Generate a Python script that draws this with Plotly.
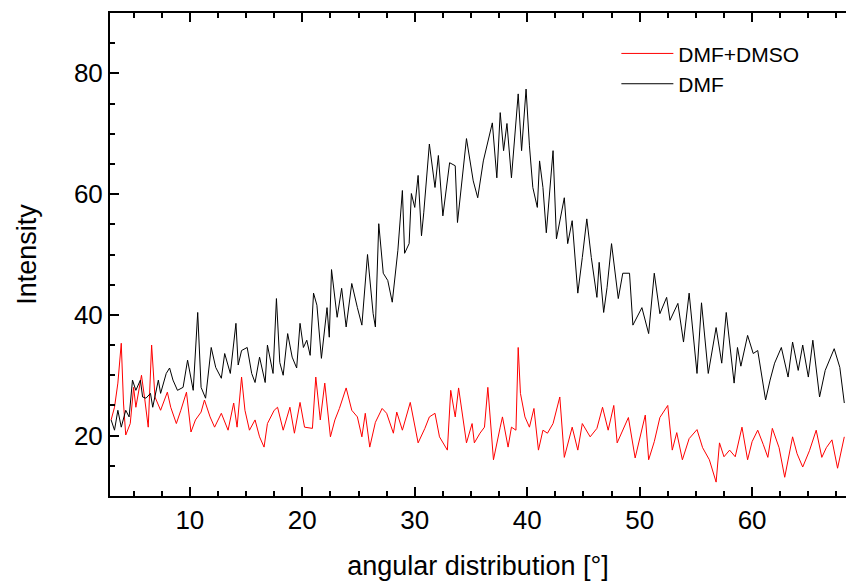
import plotly.graph_objects as go

# DMF (black) series: angle [deg], intensity
dmf_x = [3.0, 3.3, 3.6, 3.9, 4.3, 4.6, 4.9, 5.2, 5.6, 5.8, 6.1, 6.5, 6.7, 7.2, 7.4, 7.9, 8.2, 8.5, 8.9, 9.4,
         9.8, 10.3, 10.7, 11.0, 11.4, 11.9, 12.3, 12.8, 13.1, 13.6, 14.1, 14.3, 14.6, 15.1, 15.5, 15.8, 16.2,
         16.7, 16.9, 17.4, 17.7, 18.0, 18.3, 18.7, 19.1, 19.5, 19.8, 20.1, 20.4, 20.7, 21.0, 21.3, 21.7, 22.2,
         22.4, 22.6, 23.1, 23.5, 23.9, 24.4, 24.9, 25.3, 25.8, 26.3, 26.5, 26.8, 27.2, 27.6, 28.0, 28.5, 28.9,
         29.1, 29.5, 29.7, 30.0, 30.3, 30.6, 30.8, 31.3, 31.8, 32.1, 32.5, 33.1, 33.6, 33.8, 34.6, 35.2, 35.6,
         36.1, 36.4, 36.9, 37.3, 37.6, 37.9, 38.2, 38.6, 39.2, 39.5, 39.9, 40.2, 40.5, 40.9, 41.1, 41.4, 41.7,
         42.3, 42.6, 43.3, 43.6, 44.0, 44.5, 44.9, 45.3, 45.7, 46.2, 46.4, 46.8, 47.1, 47.5, 48.1, 48.5, 49.1,
         49.4, 50.2, 50.8, 51.3, 51.8, 52.4, 52.7, 53.4, 53.9, 54.4, 55.1, 55.5, 56.1, 56.8, 57.3, 57.7, 58.4,
         58.7, 59.0, 59.6, 60.1, 60.5, 61.2, 61.6, 62.0, 62.6, 63.2, 63.6, 64.1, 64.5, 65.0, 65.4, 66.0, 66.5,
         67.3, 67.8, 68.2]
dmf_y = [22.6, 20.9, 24.2, 21.4, 24.2, 23.1, 29.2, 27.5, 29.2, 26.4, 26.2, 27.0, 24.7, 29.2, 27.0, 30.3, 31.2, 29.2, 27.5, 28.0,
         32.5, 27.5, 40.4, 28.0, 26.2, 34.6, 31.3, 29.5, 33.6, 30.3, 38.6, 31.7, 34.1, 34.6, 30.3, 28.8, 33.0,
         28.8, 35.0, 30.3, 42.7, 32.1, 30.0, 36.9, 33.0, 31.2, 38.6, 34.6, 35.8, 33.3, 43.6, 41.6, 32.8, 41.2,
         36.3, 47.5, 39.6, 44.4, 38.0, 45.2, 41.2, 38.3, 50.0, 40.2, 38.0, 55.1, 46.9, 45.7, 42.1, 50.7, 60.6,
         50.2, 51.8, 60.1, 57.8, 63.1, 53.1, 56.9, 68.3, 61.1, 66.4, 56.4, 65.2, 64.7, 55.3, 69.2, 62.2, 59.4,
         65.5, 68.0, 71.8, 62.7, 73.5, 67.2, 71.7, 62.7, 76.6, 67.2, 77.4, 68.0, 61.1, 57.8, 65.5, 61.1, 53.6,
         67.2, 52.6, 59.4, 51.8, 55.6, 43.6, 49.5, 55.9, 49.5, 42.9, 48.7, 40.4, 44.5, 51.8, 42.7, 46.9, 46.9,
         38.3, 41.2, 36.9, 46.9, 40.2, 42.9, 39.1, 41.9, 35.5, 43.6, 30.3, 42.0, 30.3, 37.9, 32.0, 40.4, 28.7,
         34.6, 31.5, 36.6, 33.6, 34.1, 25.9, 29.2, 32.0, 34.6, 29.7, 35.5, 30.8, 35.0, 29.7, 35.8, 26.4, 30.8,
         34.4, 31.3, 25.4]

# DMF+DMSO (red) series
dmso_x = [3.0, 3.3, 3.6, 3.9, 4.1, 4.3, 4.7, 5.0, 5.2, 5.7, 6.0, 6.3, 6.6, 6.9, 7.4, 8.0, 8.3, 8.8, 9.2, 9.7,
          10.1, 10.5, 11.0, 11.3, 11.8, 12.2, 12.8, 13.4, 13.9, 14.2, 14.6, 14.9, 15.3, 15.8, 16.2, 16.6, 16.9,
          17.5, 17.8, 18.3, 18.9, 19.3, 19.8, 20.2, 20.9, 21.2, 21.6, 22.0, 22.5, 22.9, 23.3, 23.9, 24.4, 24.9,
          25.3, 25.6, 26.0, 26.5, 27.1, 27.5, 28.1, 28.4, 28.9, 29.6, 30.3, 30.9, 31.3, 31.8, 32.2, 32.9, 33.2,
          33.6, 33.9, 34.3, 34.6, 35.1, 35.3, 35.8, 36.2, 36.5, 37.0, 37.6, 37.8, 38.3, 38.6, 39.0, 39.2, 39.4,
          39.8, 40.2, 40.6, 41.0, 41.4, 41.8, 42.3, 42.9, 43.3, 44.0, 44.5, 44.9, 45.6, 46.2, 46.7, 47.2, 47.7,
          48.0, 48.5, 49.0, 49.6, 50.5, 50.8, 51.3, 51.8, 52.5, 52.9, 53.3, 53.8, 54.4, 55.1, 55.6, 56.2, 56.8,
          57.1, 57.5, 58.0, 58.5, 59.1, 59.6, 60.0, 60.5, 61.0, 61.4, 61.8, 62.4, 62.9, 63.6, 64.0, 64.5, 65.1,
          65.7, 66.2, 66.6, 67.1, 67.6, 68.2]
dmso_y = [22.6, 24.7, 28.7, 35.3, 25.4, 20.1, 22.0, 28.0, 24.7, 30.0, 25.9, 21.4, 35.0, 26.4, 24.2, 27.2, 24.7, 22.0, 24.2, 27.2,
          20.6, 22.6, 23.9, 25.9, 23.1, 21.4, 23.7, 20.9, 25.4, 21.4, 29.7, 24.2, 20.9, 22.6, 19.8, 18.1, 22.0,
          24.2, 24.7, 20.9, 24.7, 20.4, 25.5, 21.4, 21.2, 29.7, 22.6, 28.7, 19.8, 22.6, 24.5, 27.9, 24.2, 23.1,
          19.8, 23.7, 18.1, 22.2, 24.5, 23.7, 20.4, 23.9, 20.9, 25.5, 18.8, 21.2, 23.1, 23.7, 19.8, 17.6, 27.5,
          23.1, 27.9, 22.6, 18.8, 22.0, 18.8, 20.4, 21.4, 28.0, 16.0, 21.4, 23.1, 18.1, 21.4, 20.9, 34.6, 27.0,
          23.1, 21.4, 24.5, 17.6, 20.9, 20.4, 22.0, 26.4, 16.4, 21.4, 17.6, 22.0, 19.8, 21.2, 24.7, 20.9, 25.0,
          18.8, 21.0, 23.0, 16.3, 23.4, 16.0, 19.0, 23.0, 25.0, 17.6, 20.5, 16.0, 19.5, 21.0, 18.0, 16.0, 12.3,
          18.8, 16.5, 17.6, 16.5, 21.4, 16.0, 19.0, 20.9, 18.5, 16.4, 21.2, 18.0, 13.1, 19.8, 17.0, 14.8, 17.5,
          20.9, 16.4, 18.0, 19.3, 14.6, 19.8]

x_range = [2.9, 68.35]
y_range = [10, 90]

fig = go.Figure()
fig.add_trace(go.Scatter(x=dmso_x, y=dmso_y, mode="lines", name="DMF+DMSO",
                         line=dict(color="#ff0000", width=1)))
fig.add_trace(go.Scatter(x=dmf_x, y=dmf_y, mode="lines", name="DMF",
                         line=dict(color="#000000", width=1)))

font_family = "Liberation Sans, Arial, sans-serif"

fig.update_layout(
    width=846, height=584,
    margin=dict(l=110, r=0, t=13, b=88),
    paper_bgcolor="white", plot_bgcolor="white",
    font=dict(family=font_family, color="black"),
    showlegend=True,
    legend=dict(x=0.688, y=0.958, xanchor="left", yanchor="top",
                bgcolor="rgba(0,0,0,0)", font=dict(size=21, family=font_family),
                itemwidth=52, tracegroupgap=0),
    xaxis=dict(range=x_range, dtick=10, tick0=0, ticks="inside", ticklen=9, tickwidth=1.5,
               tickcolor="black", showline=True, linecolor="black", linewidth=2,
               mirror="ticks", showgrid=False, zeroline=False,
               tickfont=dict(size=26),
               minor=dict(dtick=2.5, tick0=0, ticks="inside", ticklen=5, tickwidth=1.5,
                          tickcolor="black", showgrid=False),
               title=dict(text="angular distribution [°]", font=dict(size=27), standoff=22)),
    yaxis=dict(range=y_range, dtick=20, tick0=0, ticks="inside", ticklen=9, tickwidth=1.5,
               tickcolor="black", showline=True, linecolor="black", linewidth=2,
               mirror=False, showgrid=False, zeroline=False,
               tickfont=dict(size=26),
               minor=dict(dtick=5, tick0=0, ticks="inside", ticklen=5, tickwidth=1.5,
                          tickcolor="black", showgrid=False),
               title=dict(text="Intensity", font=dict(size=27), standoff=29)),
)

fig.write_html("out.html")
